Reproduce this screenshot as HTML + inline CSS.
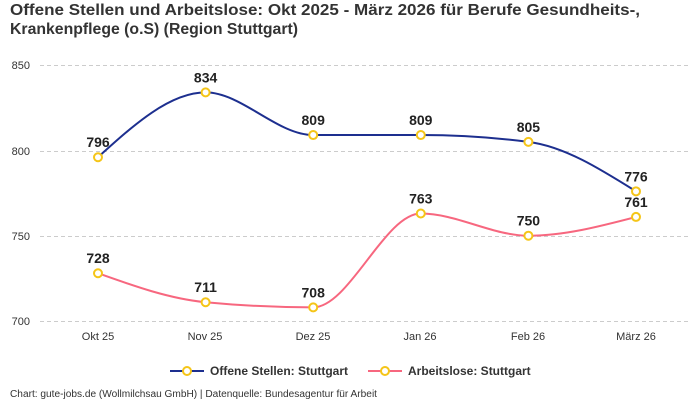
<!DOCTYPE html>
<html><head><meta charset="utf-8"><style>
body{margin:0;width:700px;height:400px;background:#fff;font-family:"Liberation Sans",sans-serif;overflow:hidden}
</style></head><body>
<svg id="s" width="700" height="400" xmlns="http://www.w3.org/2000/svg" font-family="Liberation Sans, sans-serif">
<text x="10" y="15" font-size="16" font-weight="bold" fill="#333" textLength="630" lengthAdjust="spacingAndGlyphs">Offene Stellen und Arbeitslose: Okt 2025 - März 2026 für Berufe Gesundheits-,</text>
<text x="10" y="34" font-size="16" font-weight="bold" fill="#333" textLength="288" lengthAdjust="spacingAndGlyphs">Krankenpflege (o.S) (Region Stuttgart)</text>
<g stroke="#ccc" stroke-dasharray="4,3" stroke-width="1">
<line x1="40" x2="690" y1="65.5" y2="65.5"/><line x1="40" x2="690" y1="151.5" y2="151.5"/>
<line x1="40" x2="690" y1="236.5" y2="236.5"/><line x1="40" x2="690" y1="321.5" y2="321.5"/>
</g>
<g font-size="11" fill="#333" text-anchor="end">
<text x="30" y="69">850</text><text x="30" y="155">800</text><text x="30" y="240">750</text><text x="30" y="325">700</text>
</g>
<g font-size="11" fill="#333" text-anchor="middle">
<text x="98" y="340">Okt 25</text><text x="205" y="340">Nov 25</text><text x="313" y="340">Dez 25</text>
<text x="420" y="340">Jan 26</text><text x="528" y="340">Feb 26</text><text x="636" y="340">März 26</text>
</g>
<path id="b" fill="none" stroke="#1d2f8f" stroke-width="2"/>
<path id="p" fill="none" stroke="#f7677f" stroke-width="2"/>
<g id="m"></g>
<line x1="170" x2="204" y1="371" y2="371" stroke="#1d2f8f" stroke-width="2"/>
<circle cx="187" cy="371" r="4" fill="#fff" stroke="#f5c518" stroke-width="2"/>
<text x="210" y="375" font-size="12" font-weight="bold" fill="#333">Offene Stellen: Stuttgart</text>
<line x1="368" x2="402" y1="371" y2="371" stroke="#f7677f" stroke-width="2"/>
<circle cx="385" cy="371" r="4" fill="#fff" stroke="#f5c518" stroke-width="2"/>
<text x="408" y="375" font-size="12" font-weight="bold" fill="#333">Arbeitslose: Stuttgart</text>
<text x="10" y="397" font-size="10" fill="#333" textLength="367" lengthAdjust="spacingAndGlyphs">Chart: gute-jobs.de (Wollmilchsau GmbH) | Datenquelle: Bundesagentur für Arbeit</text>
</svg>
<script>
var X=[98,205.6,313.2,420.8,528.4,636];
function Y(v){return 321-(v-700)*1.706;}
function mono(xs,ys){
 var n=xs.length,d=[],t=[];
 for(var i=0;i<n-1;i++)d.push((ys[i+1]-ys[i])/(xs[i+1]-xs[i]));
 for(i=1;i<n-1;i++){var h0=xs[i]-xs[i-1],h1=xs[i+1]-xs[i];
  t[i]=(d[i-1]*d[i]<=0)?0:((d[i-1]<0?-1:1)+(d[i]<0?-1:1))*Math.min(Math.abs(d[i-1]),Math.abs(d[i]),0.5*Math.abs((d[i-1]*h1+d[i]*h0)/(h0+h1)));
  if(isNaN(t[i]))t[i]=0;}
 t[0]=(3*d[0]-t[1])/2; t[n-1]=(3*d[n-2]-t[n-2])/2;
 var s="M"+xs[0]+","+ys[0];
 for(i=0;i<n-1;i++){var h=(xs[i+1]-xs[i])/3;
  s+="C"+(xs[i]+h)+","+(ys[i]+h*t[i])+","+(xs[i+1]-h)+","+(ys[i+1]-h*t[i+1])+","+xs[i+1]+","+ys[i+1];}
 return s;}
var B=[796,834,809,809,805,776],P=[728,711,708,763,750,761];
document.getElementById('b').setAttribute('d',mono(X,B.map(Y)));
document.getElementById('p').setAttribute('d',mono(X,P.map(Y)));
var g=document.getElementById('m'),h='';
[B,P].forEach(function(a){a.forEach(function(v,i){var y=Y(v);
 h+='<circle cx="'+X[i]+'" cy="'+y+'" r="4" fill="#fff" stroke="#f5c518" stroke-width="2"/>';
 h+='<text x="'+X[i]+'" y="'+(y-10)+'" font-size="14" font-weight="bold" fill="#222" text-anchor="middle">'+v+'</text>';});});
g.innerHTML=h;
</script>
</body></html>
